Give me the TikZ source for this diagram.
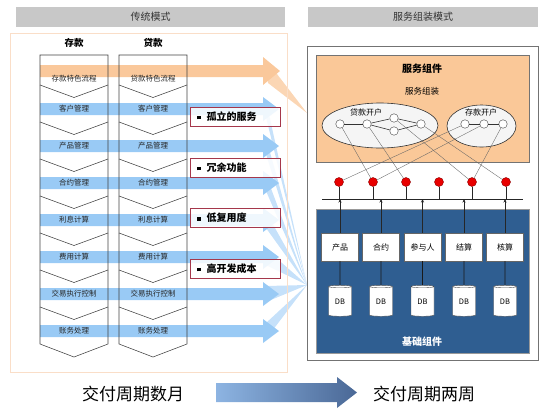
\documentclass[tikz,border=0pt]{standalone}
\usepackage{fontspec}
\setmainfont{Noto Sans CJK SC}
\usepackage{tikz}
\usetikzlibrary{arrows.meta, positioning, shapes.geometric}
\usepackage{xcolor}

\definecolor{barGray}{RGB}{200,200,200}
\definecolor{flowBlue}{RGB}{153,202,245}
\definecolor{fanBlue}{RGB}{198,225,250}
\definecolor{flowOrange}{RGB}{250,200,155}
\definecolor{panelLine}{RGB}{250,222,200}
\definecolor{calloutRed}{RGB}{165,55,75}
\definecolor{compOrange}{RGB}{250,200,152}
\definecolor{baseBlue}{RGB}{47,94,145}
\definecolor{dotRed}{RGB}{232,0,0}
\definecolor{gainLight}{RGB}{141,180,226}
\definecolor{gainDark}{RGB}{74,104,150}

\begin{document}
\begin{tikzpicture}[
    x=1pt, y=-1pt,
    head bar/.style={fill=barGray, minimum height=20pt, inner sep=0pt, font=\fontsize{10}{12}\selectfont, text=black!80},
    col head/.style={font=\fontsize{9.5}{11}\selectfont\bfseries, inner sep=0pt},
    row label/.style={font=\fontsize{7.5}{9}\selectfont, inner sep=0pt, text=black!85},
    chevron/.style={draw=black!75, line width=0.55pt},
    callout/.style={draw=calloutRed, line width=0.6pt, fill=white, fill opacity=0.85, text opacity=1, minimum width=90pt, minimum height=19pt, inner xsep=7pt, inner ysep=0pt, text width=76pt, align=left, font=\fontsize{10}{12}\selectfont\bfseries},
    frame box/.style={draw=black!55, line width=0.6pt, fill=white, inner sep=0pt},
    cluster/.style={ellipse, draw=black!80, line width=0.6pt, fill=white!96!black, inner sep=0pt},
    svc/.style={circle, draw=black!75, fill=white, minimum size=8.5pt, inner sep=0pt},
    port/.style={circle, draw=red!55!black, fill=dotRed, minimum size=9pt, inner sep=0pt},
    base box/.style={rectangle, draw=black!60, fill=white, minimum width=37pt, minimum height=28pt, font=\fontsize{8}{10}\selectfont},
    db/.style={cylinder, shape border rotate=90, aspect=0.25, draw=black!70, fill=white, minimum height=31pt, minimum width=23pt, inner sep=0pt, font=\fontsize{7.5}{9}\selectfont},
    link/.style={draw=black!60, line width=0.35pt},
    edge/.style={draw=black!80, line width=0.6pt},
    up/.style={draw=black!85, line width=0.6pt, -{Stealth[length=3.5pt, width=3pt]}}
]
    \useasboundingbox (0,0) rectangle (549,408);

    % Headers
    \node[head bar, minimum width=269pt] (hl) at (150.5,17) {传统模式};
    \node[head bar, minimum width=230pt] (hr) at (423,17) {服务组装模式};

    % Flows of the traditional model
    \coordinate (sink) at (307,285);
    \coordinate (osink) at (307,113);
    \fill[flowOrange, opacity=0.75] (267,61) -- (osink) -- (268,83) -- cycle;
    \fill[flowOrange] (40,65) -- (263,65) -- (263,57) -- (280,71) -- (263,85) -- (263,77) -- (40,77) -- cycle;
    \foreach \y in {109,146,...,331} {
        \fill[fanBlue] (266,\y-8) -- (sink) -- (266,\y+8) -- cycle;
    }
    \foreach \y in {109,146,...,331} {
        \fill[flowBlue] (40,\y-6) -- (263,\y-6) -- (263,\y-12) -- (279,\y) -- (263,\y+12) -- (263,\y+6) -- (40,\y+6) -- cycle;
    }

    \node[draw=panelLine, line width=0.8pt, minimum width=277pt, minimum height=339pt, inner sep=0pt] (left) at (148.5,202.5) {};

    % Chevron columns
    \foreach \l/\r in {40/108, 119/187} {
        \pgfmathsetmacro{\c}{(\l+\r)/2}
        \draw[chevron] (\l,55) -- (\r,55) -- (\r,344) -- (\c,357) -- (\l,344) -- cycle;
        \foreach \s in {85,122,...,307}
            \draw[chevron] (\l,\s) -- (\c,\s+12.5) -- (\r,\s);
    }
    \node[col head] (dep) at (74,43) {存款};
    \node[col head] (loan) at (153,43) {贷款};
    \foreach \y/\a/\b in {79/存款特色流程/贷款特色流程, 109/客户管理/客户管理, 146/产品管理/产品管理,
        183/合约管理/合约管理, 220/利息计算/利息计算, 257/费用计算/费用计算,
        294/交易执行控制/交易执行控制, 331/账务处理/账务处理} {
        \node[row label] (da\y) at (74,\y) {\a};
        \node[row label] (la\y) at (153,\y) {\b};
    }

    % Problems
    \node[callout] (q1) at (235,116.5) {\rule[1pt]{3.5pt}{3.5pt}\hspace{6pt}孤立的服务};
    \node[callout] (q2) at (235,167.5) {\rule[1pt]{3.5pt}{3.5pt}\hspace{6pt}冗余功能};
    \node[callout] (q3) at (235,218) {\rule[1pt]{3.5pt}{3.5pt}\hspace{6pt}低复用度};
    \node[callout] (q4) at (235,268.5) {\rule[1pt]{3.5pt}{3.5pt}\hspace{6pt}高开发成本};

    % Service assembly model
    \node[frame box, minimum width=231pt, minimum height=314pt] (right) at (422.5,203) {};
    \node[frame box, fill=compOrange, minimum width=213pt, minimum height=107pt] (comp) at (422.5,108.5) {};
    \node[font=\fontsize{10}{12}\selectfont\bfseries] (compt) at (422,69) {服务组件};
    \node[font=\fontsize{8.5}{10}\selectfont] (assm) at (422,91) {服务组装};

    \node[cluster, minimum width=116pt, minimum height=45pt] (e1) at (380,125.5) {};
    \node[cluster, minimum width=69pt, minimum height=42pt] (e2) at (481.5,126) {};
    \node[font=\fontsize{8}{10}\selectfont] (e1t) at (366,112) {贷款开户};
    \node[font=\fontsize{8}{10}\selectfont] (e2t) at (481,112) {存款开户};

    \node[svc] (c1) at (340,124) {};
    \node[svc] (c2) at (367,124) {};
    \node[svc] (c3) at (394,118) {};
    \node[svc] (c4) at (394,131) {};
    \node[svc] (c5) at (421,124) {};
    \node[svc] (d1) at (465,124) {};
    \node[svc] (d2) at (484,124) {};
    \node[svc] (d3) at (503,124) {};
    \draw[edge] (c1) -- (c2);
    \draw[edge] (c2) -- (c3);
    \draw[edge] (c2) -- (c4);
    \draw[edge] (c3) -- (c5);
    \draw[edge] (c4) -- (c5);
    \draw[edge] (d1) -- (d2);
    \draw[edge] (d2) -- (d3);

    % Ports and bus
    \foreach \i/\x in {1/339, 2/373, 3/406, 4/439, 5/472, 6/506}
        \node[port] (p\i) at (\x,182) {};
    \coordinate (busL) at (322,199);
    \coordinate (busR) at (523,199);
    \draw[black!85, line width=0.7pt] (busL) -- (busR);
    \foreach \i in {1,...,6}
        \draw[black!85, line width=0.6pt] (p\i) -- (p\i |- busL);

    \draw[link] (c1) -- (p2);
    \draw[link] (c2) -- (p3);
    \draw[link] (c3) -- (p5);
    \draw[link] (c5) -- (p6);
    \draw[link] (d1) -- (p1);
    \draw[link] (d2) -- (p2);
    \draw[link] (d3) -- (p5);

    % Base components
    \node[frame box, fill=baseBlue, draw=black!40, minimum width=213pt, minimum height=144pt] (base) at (422.5,281) {};
    \node[font=\fontsize{10}{12}\selectfont\bfseries, text=white] (baset) at (422,342) {基础组件};
    \foreach \i/\x/\t in {1/340/产品, 2/381/合约, 3/422.5/参与人, 4/464/结算, 5/505/核算} {
        \node[base box] (b\i) at (\x,247) {\t};
        \node[db] (db\i) at (\x,301.5) {DB};
        \draw[black!90, line width=0.6pt] (b\i) -- (db\i);
        \draw[up] (b\i) -- (b\i |- busL);
    }

    % Delivery cycle
    \node[font=\fontsize{17}{20}\selectfont] (months) at (133,394) {交付周期数月};
    \node[font=\fontsize{17}{20}\selectfont] (weeks) at (424,394) {交付周期两周};
    \shade[left color=gainLight, right color=gainDark] (216,383) -- (337,383) -- (337,377) -- (357,392.5)
        -- (337,408) -- (337,402) -- (216,402) -- cycle;
\end{tikzpicture}
\end{document}
